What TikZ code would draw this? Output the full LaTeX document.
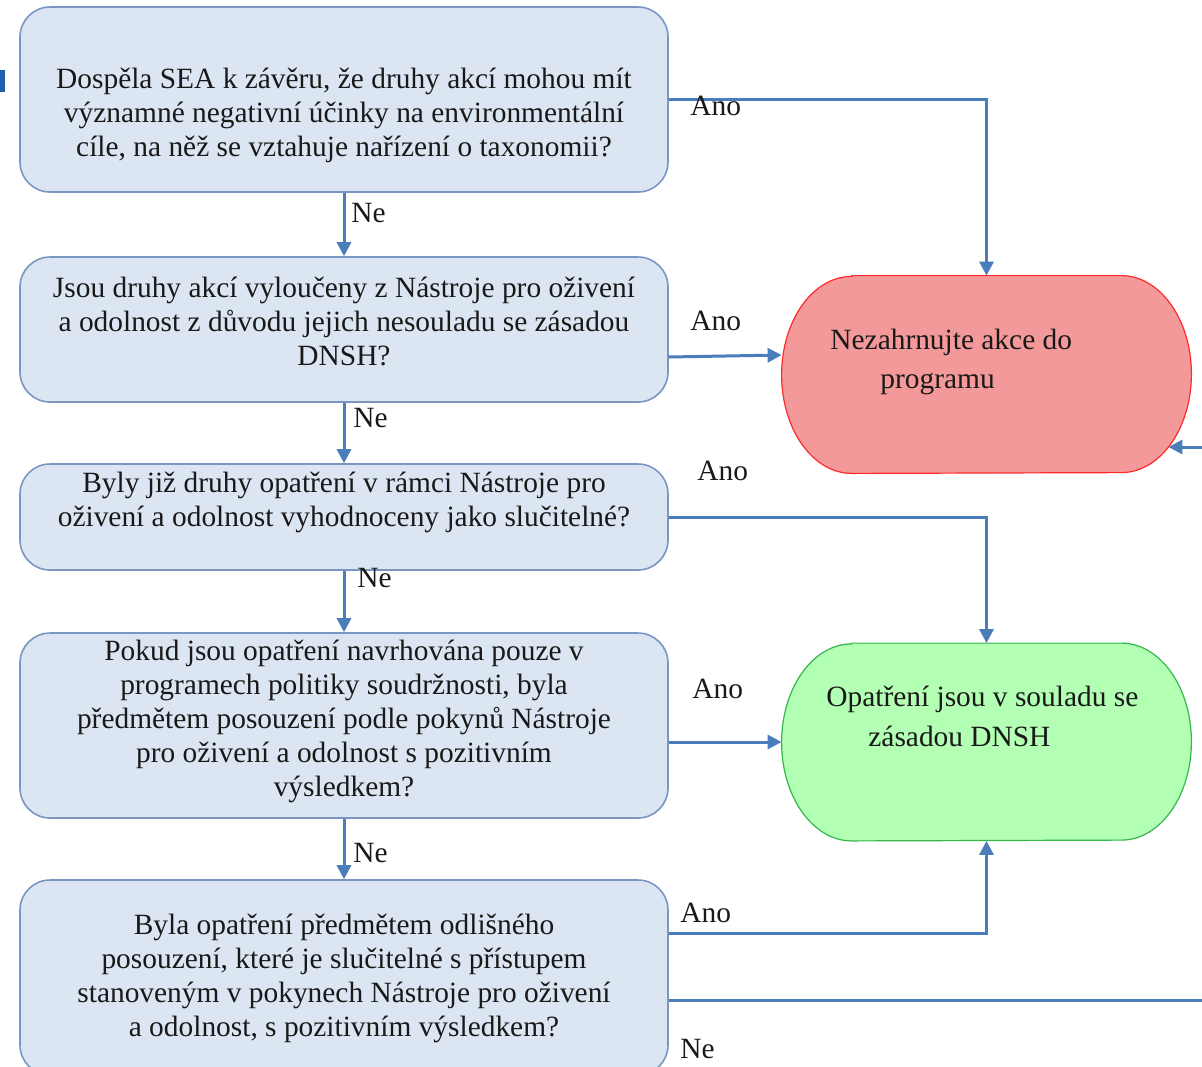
\documentclass[tikz,border=0pt]{standalone}
\usepackage{fontspec}
\setmainfont{Liberation Serif}
\newfontfamily\flowfont{Liberation Serif}
\usetikzlibrary{arrows.meta}
\definecolor{boxfill}{HTML}{DCE6F2}
\definecolor{boxline}{HTML}{7A96C2}
\definecolor{arrowblue}{HTML}{4A7EBB}
\definecolor{stopfill}{HTML}{F4999A}
\definecolor{stopline}{HTML}{FF2A2A}
\definecolor{okfill}{HTML}{B3FFB3}
\definecolor{okline}{HTML}{33B84E}
\definecolor{markblue}{HTML}{1F5FAE}
\begin{document}
\begin{tikzpicture}[x=0.5pt, y=-0.5pt,
    every node/.style={font=\flowfont\fontsize{14.7}{17}\selectfont, text=black!90},
    question/.style={draw=boxline, fill=boxfill, line width=0.8pt, rounded corners=15pt,
        minimum width=324pt, inner sep=0pt},
    terminal/.style={minimum width=204.5pt, minimum height=98.5pt, inner sep=0pt},
    outline/.style={line width=0.6pt},
    outcome/.style={align=left, anchor=west, inner sep=0pt,
        font=\flowfont\fontsize{14.7}{19.75}\selectfont},
    lbl/.style={anchor=west, inner sep=0pt},
    conn/.style={draw=arrowblue, line width=1.5pt},
    arr/.style={conn, -{Triangle[length=7pt,width=7pt]}}]
    \clip (0,0) rectangle (1202,1066);
    \fill[markblue] (0,70) rectangle (5,92);

    % questions
    \node[question, minimum height=92.5pt] (q1) at (344,99.5) {};
    \node[question, minimum height=72.5pt] (q2) at (344,329.5) {};
    \node[question, minimum height=53pt] (q3) at (344,517) {};
    \node[question, minimum height=92.5pt] (q4) at (344,725.5) {};
    \node[question, minimum height=97.5pt] (q5) at (344,977.5) {};

    \node[align=center] (q1t) at (344,115.5) {Dospěla SEA k závěru, že druhy akcí mohou mít\\významné negativní účinky na environmentální\\cíle, na něž se vztahuje nařízení o taxonomii?};
    \node[align=center] (q2t) at (344,321) {Jsou druhy akcí vyloučeny z Nástroje pro oživení\\a odolnost z důvodu jejich nesouladu se zásadou\\DNSH?};
    \node[align=center] (q3t) at (344,502.5) {Byly již druhy opatření v rámci Nástroje pro\\oživení a odolnost vyhodnoceny jako slučitelné?};
    \node[align=center] (q4t) at (344,721) {Pokud jsou opatření navrhována pouze v\\programech politiky soudržnosti, byla\\předmětem posouzení podle pokynů Nástroje\\pro oživení a odolnost s pozitivním\\výsledkem?};
    \node[align=center] (q5t) at (344,978.5) {Byla opatření předmětem odlišného\\posouzení, které je slučitelné s přístupem\\stanoveným v pokynech Nástroje pro oživení\\a odolnost, s pozitivním výsledkem?};

    % outcomes
    \node[terminal] (stop) at (986.5,374.5) {};
    \node[terminal] (ok) at (986.5,742) {};
    \filldraw[outline, draw=stopline, fill=stopfill] ([xshift=35pt]stop.north west) -- ([xshift=-35pt]stop.north east)
        arc[start angle=90, end angle=-90, x radius=35pt, y radius=49.25pt] -- ([xshift=35pt]stop.south west)
        arc[start angle=270, end angle=90, x radius=35pt, y radius=49.25pt] -- cycle;
    \filldraw[outline, draw=okline, fill=okfill] ([xshift=35pt]ok.north west) -- ([xshift=-35pt]ok.north east)
        arc[start angle=90, end angle=-90, x radius=35pt, y radius=49.25pt] -- ([xshift=35pt]ok.south west)
        arc[start angle=270, end angle=90, x radius=35pt, y radius=49.25pt] -- cycle;
    \node[outcome] (stopt) at (830,362) {Nezahrnujte akce do\\\hspace*{25pt}programu};
    \node[outcome] (okt) at (826,716.5) {Opatření jsou v souladu se\\\hspace*{21pt}zásadou DNSH};

    \coordinate (offright) at (1202,1000);
    \coordinate (offstop) at (1202,447);

    % connectors
    \draw[arr] (q1) -- (q2);
    \draw[arr] (q2) -- (q3);
    \draw[arr] (q3) -- (q4);
    \draw[arr] (q4) -- (q5);
    \draw[arr] (q1.east) -| (stop.north);
    \draw[arr] ([yshift=-13.75pt]q2.east) -- ([yshift=9.75pt]stop.west);
    \draw[arr] (q3.east) -| (ok.north);
    \draw[arr] (q4.east |- ok.west) -- (ok.west);
    \draw[arr] ([yshift=22.25pt]q5.east) -| (ok.south);
    \draw[conn] (q5.east |- offright) -- (offright);
    \draw[arr] (offstop) -- ([shift={(-11.5pt,-36.25pt)}]stop.east);

    % labels
    \node[lbl] (ne1) at (351,213) {Ne};
    \node[lbl] (ne2) at (353,418) {Ne};
    \node[lbl] (ne3) at (357,578) {Ne};
    \node[lbl] (ne4) at (353,853) {Ne};
    \node[lbl] (ne5) at (680,1049) {Ne};
    \node[lbl] (ano1) at (690,106) {Ano};
    \node[lbl] (ano2) at (690,321) {Ano};
    \node[lbl] (ano3) at (697,471) {Ano};
    \node[lbl] (ano4) at (692,689) {Ano};
    \node[lbl] (ano5) at (680,913) {Ano};
\end{tikzpicture}
\end{document}
